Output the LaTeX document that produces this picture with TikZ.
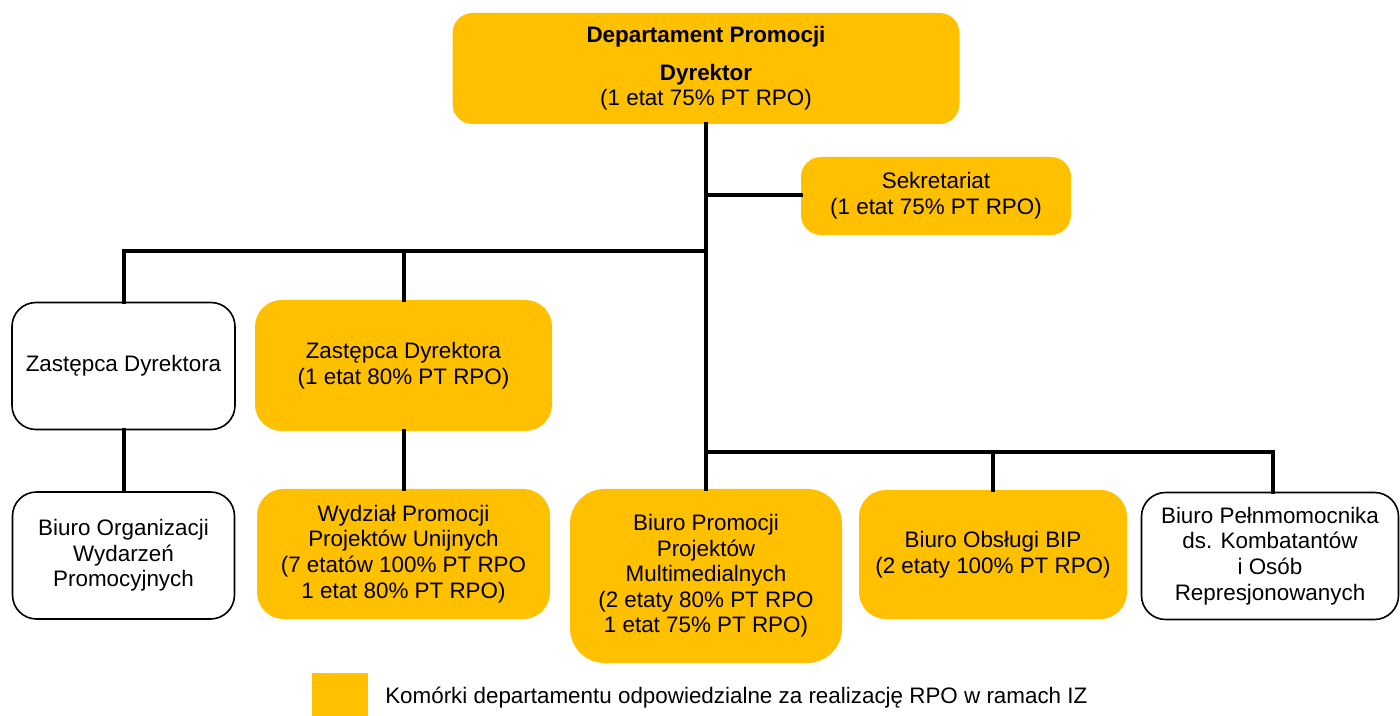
\documentclass[tikz,border=0pt]{standalone}
\usepackage{fontspec}
\setmainfont{Liberation Sans}
\newdimen\pxu \pxu=0.75pt
\definecolor{gold}{HTML}{FFC000}
\begin{document}
\begin{tikzpicture}[x=0.75pt,y=-0.75pt,
  every node/.style={font=\fontsize{16.8}{19.2}\selectfont, align=center, inner sep=0pt},
  ybox/.style={fill=gold, rounded corners=15pt},
  wbox/.style={draw=black, line width=1.2pt, fill=white, rounded corners=18pt},
  conn/.style={line width=3pt, line cap=rect}]
\useasboundingbox (0,0) rectangle (1400,716);
% boxes
\node[ybox, minimum width=507\pxu, minimum height=111\pxu] (top) at (706,68.5)
  {\textbf{Departament Promocji}\\[9pt]\textbf{Dyrektor}\\(1 etat 75\% PT RPO)};
\node[ybox, minimum width=270\pxu, minimum height=78\pxu] (sek) at (936,196)
  {Sekretariat\\(1 etat 75\% PT RPO)};
\node[wbox, minimum width=223\pxu, minimum height=127\pxu] (zw) at (123.5,366)
  {Zastępca Dyrektora};
\node[ybox, minimum width=297\pxu, minimum height=131\pxu, rounded corners=20pt] (zy) at (403.5,365.5)
  {Zastępca Dyrektora\\(1 etat 80\% PT RPO)};
\node[wbox, minimum width=222\pxu, minimum height=127\pxu] (bo) at (123.5,555.5)
  {Biuro Organizacji\\Wydarzeń\\Promocyjnych};
\node[ybox, minimum width=293\pxu, minimum height=130\pxu, rounded corners=20pt] (wyd) at (403.5,554)
  {Wydział Promocji\\Projektów Unijnych\\(7 etatów 100\% PT RPO\\1 etat 80\% PT RPO)};
\node[ybox, minimum width=272\pxu, minimum height=174\pxu, rounded corners=26pt] (bp) at (706,576)
  {Biuro Promocji\\Projektów\\Multimedialnych\\(2 etaty 80\% PT RPO\\1 etat 75\% PT RPO)};
\node[ybox, minimum width=268\pxu, minimum height=129\pxu, rounded corners=20pt] (bip) at (993,554.5)
  {Biuro Obsługi BIP\\(2 etaty 100\% PT RPO)};
\node[wbox, minimum width=257\pxu, minimum height=127\pxu] (pel) at (1270,556)
  {Biuro Pełnmomocnika\\ds. Kombatantów\\i Osób\\Represjonowanych};
% junctions
\coordinate (j1) at (706,195);
\coordinate (j2) at (706,251);
\coordinate (j3) at (706,452);
% connectors
\draw[conn] (top.south) -- (bp.north);
\draw[conn] (j1) -- (sek.west |- j1);
\draw[conn] (j2) -| (zw.north);
\draw[conn] (j2) -| (zy.north);
\draw[conn] (zw.south) -- (bo.north);
\draw[conn] (zy.south) -- (wyd.north);
\draw[conn] (j3) -| (bip.north);
\draw[conn] (j3) -| ([xshift=3\pxu]pel.north);
% legend
\node[fill=gold, minimum width=56\pxu, minimum height=44\pxu] (leg) at (340,695) {};
\node[anchor=west] (legtxt) at (385,698) {Komórki departamentu odpowiedzialne za realizację RPO w ramach IZ};
\end{tikzpicture}
\end{document}
